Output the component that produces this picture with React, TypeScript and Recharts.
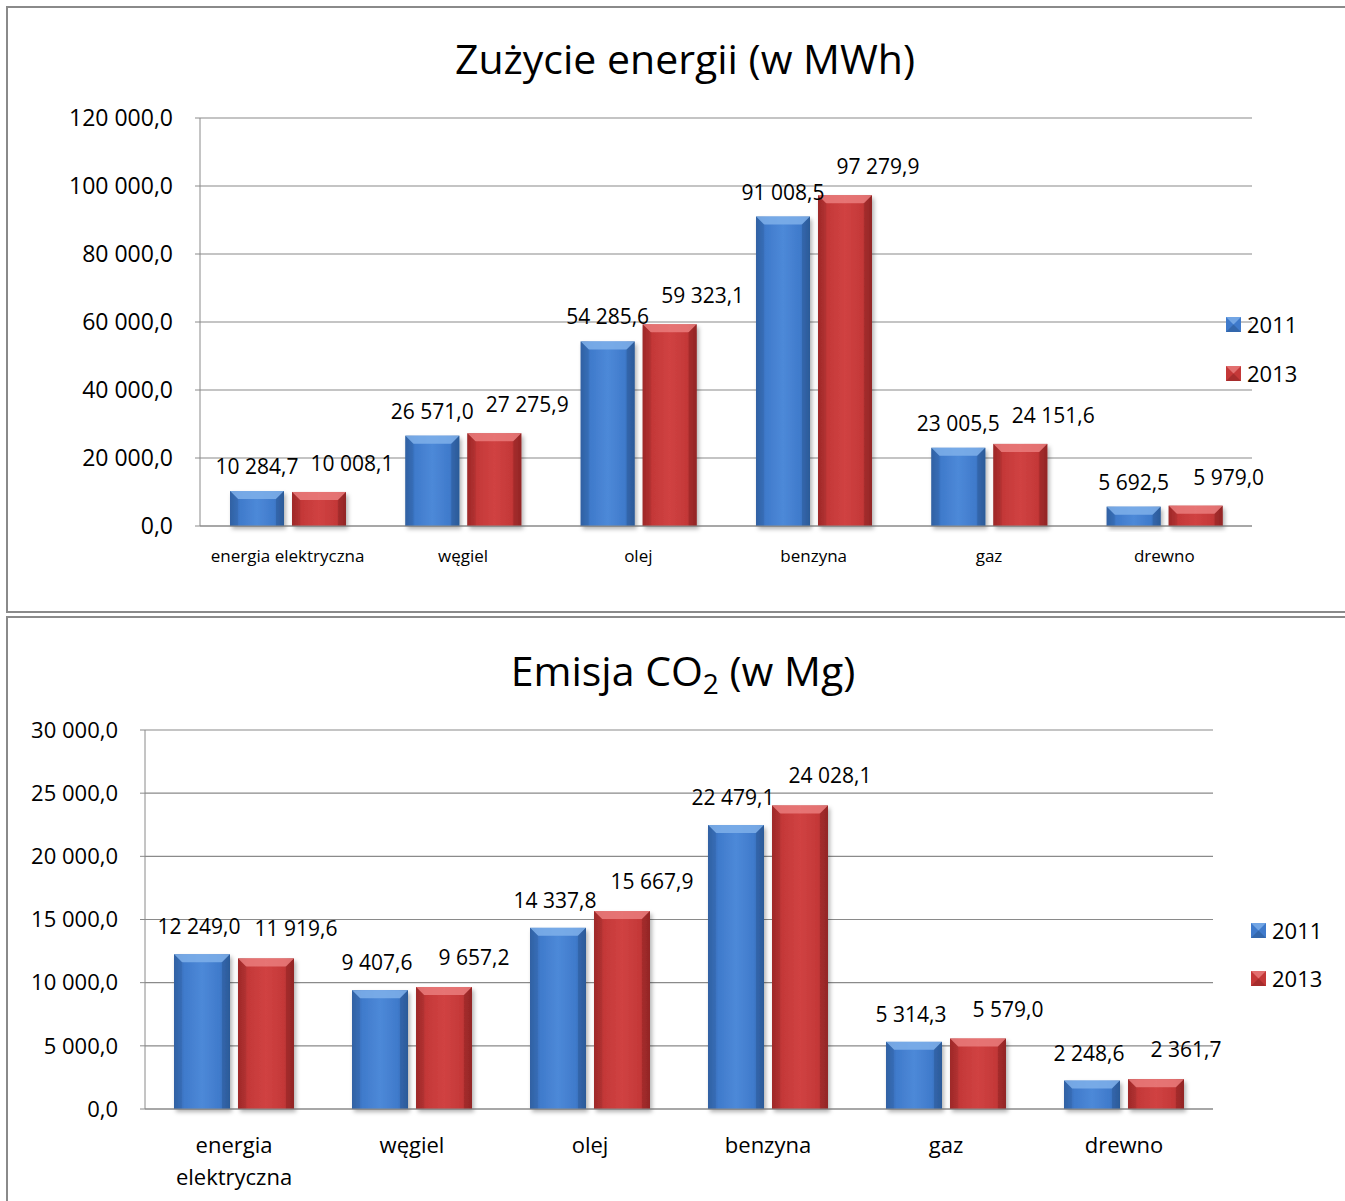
import React from "react";
import {
  BarChart,
  Bar,
  XAxis,
  YAxis,
  CartesianGrid,
  LabelList,
} from "recharts";

const categories = [
  "energia elektryczna",
  "węgiel",
  "olej",
  "benzyna",
  "gaz",
  "drewno",
];
const energy2011 = [10284.7, 26571.0, 54285.6, 91008.5, 23005.5, 5692.5];
const energy2013 = [10008.1, 27275.9, 59323.1, 97279.9, 24151.6, 5979.0];
const co2_2011 = [12249.0, 9407.6, 14337.8, 22479.1, 5314.3, 2248.6];
const co2_2013 = [11919.6, 9657.2, 15667.9, 24028.1, 5579.0, 2361.7];
const energyTicks = [0, 20000, 40000, 60000, 80000, 100000, 120000];
const co2Ticks = [0, 5000, 10000, 15000, 20000, 25000, 30000];
const years = ["2011", "2013"];

const FONT = "'Open Sans', 'Noto Sans', sans-serif";

// 12345.6 -> "12 345,6"
function fmt(v: number) {
  const [i, d] = v.toFixed(1).split(".");
  return i.replace(/\B(?=(\d{3})+(?!\d))/g, " ") + "," + d;
}

const palette: any = {
  blue: { edge: "#2b5a98", mid: "#3f7acb", light: "#4d89d8", top: "#7fb0ea", side: "#3368ad" },
  red: { edge: "#922525", mid: "#c43838", light: "#d04242", top: "#ea7d7d", side: "#a92e2e" },
};

function Gradients() {
  return (
    <defs>
      {Object.keys(palette).map((k) => (
        <linearGradient key={k} id={`body-${k}`} x1="0" y1="0" x2="1" y2="0">
          <stop offset="0" stopColor={palette[k].edge} />
          <stop offset="0.18" stopColor={palette[k].mid} />
          <stop offset="0.5" stopColor={palette[k].light} />
          <stop offset="0.82" stopColor={palette[k].mid} />
          <stop offset="1" stopColor={palette[k].edge} />
        </linearGradient>
      ))}
      <filter id="shadow" x="-20%" y="-20%" width="150%" height="150%">
        <feDropShadow dx="2" dy="3" stdDeviation="2" floodColor="#000" floodOpacity="0.3" />
      </filter>
    </defs>
  );
}

function BevelBar(props: any) {
  const { x, y, width: w, height: h, tone } = props;
  if (!h || h <= 0) return null;
  const c = palette[tone];
  const b = Math.min(8, h / 2, w / 2);
  return (
    <g filter="url(#shadow)">
      <rect x={x} y={y} width={w} height={h} fill={`url(#body-${tone})`} />
      <polygon
        points={`${x},${y} ${x + w},${y} ${x + w - b},${y + b} ${x + b},${y + b}`}
        fill={c.top}
        opacity={0.85}
      />
      <polygon
        points={`${x},${y} ${x + b},${y + b} ${x + b},${y + h} ${x},${y + h}`}
        fill={c.side}
        opacity={0.5}
      />
      <polygon
        points={`${x + w},${y} ${x + w - b},${y + b} ${x + w - b},${y + h} ${x + w},${y + h}`}
        fill={c.edge}
        opacity={0.5}
      />
    </g>
  );
}

function LegendIcon({ tone }: { tone: string }) {
  const c = palette[tone];
  return (
    <svg width={15} height={15} style={{ marginRight: 6 }}>
      <rect x={0} y={0} width={15} height={15} fill={c.mid} />
      <polygon points="0,0 15,0 7.5,7.5" fill={c.top} opacity={0.8} />
      <polygon points="0,15 15,15 7.5,7.5" fill={c.edge} opacity={0.6} />
    </svg>
  );
}

function YearLegend({ left, top, gap }: { left: number; top: number; gap: number }) {
  return (
    <div style={{ position: "absolute", left, top, fontFamily: FONT, fontSize: 22, color: "#000" }}>
      {years.map((yr, i) => (
        <div
          key={yr}
          style={{ display: "flex", alignItems: "center", height: 30, marginBottom: i === 0 ? gap : 0 }}
        >
          <LegendIcon tone={i === 0 ? "blue" : "red"} />
          <span>{yr}</span>
        </div>
      ))}
    </div>
  );
}

function makeLabel(dx: number, dy: number, size: number) {
  return (p: any) => {
    const { x, y, width, value } = p;
    return (
      <text
        x={x + width / 2 + dx}
        y={y + dy}
        textAnchor="middle"
        fontFamily={FONT}
        fontSize={size}
        fill="#000"
      >
        {fmt(value)}
      </text>
    );
  };
}

function makeXTick(size: number, wrap: boolean, dy: number, lh: number) {
  return (p: any) => {
    const { x, y, payload } = p;
    const lines = wrap ? String(payload.value).split(" ") : [String(payload.value)];
    return (
      <text x={x} y={y} textAnchor="middle" fontFamily={FONT} fontSize={size} fill="#000">
        {lines.map((l, i) => (
          <tspan key={i} x={x} dy={i === 0 ? dy : lh}>
            {l}
          </tspan>
        ))}
      </text>
    );
  };
}

const energyData = categories.map((c, i) => ({ name: c, y2011: energy2011[i], y2013: energy2013[i] }));
const co2Data = categories.map((c, i) => ({ name: c, y2011: co2_2011[i], y2013: co2_2013[i] }));

export default function App() {
  return (
    <div style={{ position: "absolute", left: 0, top: 0, width: 1345, height: 1201, background: "#fff", overflow: "hidden" }}>
      {/* frames */}
      <div style={{ position: "absolute", left: 6, top: 6, width: 1360, height: 603, border: "2px solid #8a8a8a" }} />
      <div style={{ position: "absolute", left: 6, top: 616, width: 1360, height: 620, border: "2px solid #8a8a8a" }} />

      <div style={{ position: "absolute", left: 0, top: 30, width: 1370, textAlign: "center", fontFamily: FONT, fontSize: 41, color: "#000" }}>
        Zużycie energii (w MWh)
      </div>
      <div style={{ position: "absolute", left: 0, top: 642, width: 1366, textAlign: "center", fontFamily: FONT, fontSize: 41, color: "#000" }}>
        Emisja CO<sub style={{ fontSize: 28, verticalAlign: "-8px" }}>2</sub> (w Mg)
      </div>

      <div style={{ position: "absolute", left: 0, top: 0 }}>
        <BarChart
          width={1345}
          height={612}
          data={energyData}
          margin={{ top: 118, right: 93, bottom: 56, left: 0 }}
          barCategoryGap={29}
          barGap={8}
        >
          <Gradients />
          <CartesianGrid vertical={false} stroke="#8a8a8a" strokeWidth={1.2} />
          <XAxis
            dataKey="name"
            stroke="#8a8a8a"
            tickLine={false}
            interval={0}
            tick={makeXTick(17, false, 28, 0)}
          />
          <YAxis
            width={200}
            domain={[0, 120000]}
            ticks={energyTicks}
            stroke="#8a8a8a"
            tickSize={5}
            tickMargin={22}
            tickFormatter={fmt}
            tick={{ fontFamily: FONT, fontSize: 23, fill: "#000" }}
          />
          <Bar dataKey="y2011" name="2011" fill="#3f7acb" barSize={54} isAnimationActive={false} shape={(p: any) => <BevelBar {...p} tone="blue" />}>
            <LabelList dataKey="y2011" content={makeLabel(0, -17, 21)} />
          </Bar>
          <Bar dataKey="y2013" name="2013" fill="#c43838" barSize={54} isAnimationActive={false} shape={(p: any) => <BevelBar {...p} tone="red" />}>
            <LabelList dataKey="y2013" content={makeLabel(33, -21, 21)} />
          </Bar>
        </BarChart>
      </div>
      <YearLegend left={1226} top={309} gap={19} />

      <div style={{ position: "absolute", left: 0, top: 612 }}>
        <BarChart
          width={1345}
          height={589}
          data={co2Data}
          margin={{ top: 118, right: 132, bottom: 62, left: 0 }}
          barCategoryGap={28}
          barGap={8}
        >
          <Gradients />
          <CartesianGrid vertical={false} stroke="#8a8a8a" strokeWidth={1.2} />
          <XAxis
            dataKey="name"
            stroke="#8a8a8a"
            tickLine={false}
            interval={0}
            tick={makeXTick(22, true, 36, 32)}
          />
          <YAxis
            width={145}
            domain={[0, 30000]}
            ticks={co2Ticks}
            stroke="#8a8a8a"
            tickSize={5}
            tickMargin={22}
            tickFormatter={fmt}
            tick={{ fontFamily: FONT, fontSize: 22, fill: "#000" }}
          />
          <Bar dataKey="y2011" name="2011" fill="#3f7acb" barSize={56} isAnimationActive={false} shape={(p: any) => <BevelBar {...p} tone="blue" />}>
            <LabelList dataKey="y2011" content={makeLabel(-3, -20, 21)} />
          </Bar>
          <Bar dataKey="y2013" name="2013" fill="#c43838" barSize={56} isAnimationActive={false} shape={(p: any) => <BevelBar {...p} tone="red" />}>
            <LabelList dataKey="y2013" content={makeLabel(30, -22, 21)} />
          </Bar>
        </BarChart>
      </div>
      <YearLegend left={1251} top={915} gap={18} />
    </div>
  );
}
